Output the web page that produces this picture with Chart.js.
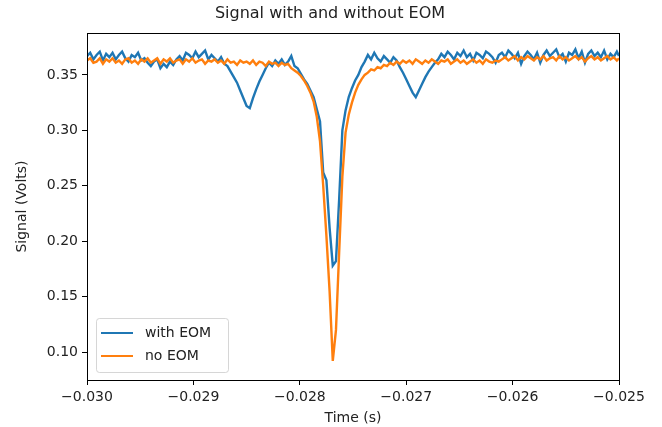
<!DOCTYPE html>
<html>
<head>
<meta charset="utf-8">
<script src="https://cdn.jsdelivr.net/npm/chart.js@4"></script>
<style>
  html, body { margin: 0; padding: 0; background: #fff; }
  #wrap { width: 662px; height: 427px; }
</style>
</head>
<body>
<div id="wrap"><canvas id="signal"></canvas></div>
<script>
// sample times (s)
const times = [
  -0.03000,-0.02997,-0.02994,-0.02991,-0.02988,-0.02985,-0.02982,-0.02979,-0.02976,-0.02973,
  -0.02970,-0.02967,-0.02964,-0.02961,-0.02958,-0.02955,-0.02952,-0.02949,-0.02946,-0.02943,
  -0.02940,-0.02937,-0.02934,-0.02931,-0.02928,-0.02925,-0.02922,-0.02919,-0.02916,-0.02913,
  -0.02910,-0.02907,-0.02904,-0.02901,-0.02898,-0.02895,-0.02892,-0.02889,-0.02886,-0.02883,
  -0.02880,-0.02877,-0.02874,-0.02871,-0.02868,-0.02865,-0.02862,-0.02859,-0.02856,-0.02853,
  -0.02850,-0.02847,-0.02844,-0.02841,-0.02838,-0.02835,-0.02832,-0.02829,-0.02826,-0.02823,
  -0.02820,-0.02817,-0.02814,-0.02811,-0.02808,-0.02805,-0.02802,-0.02799,-0.02796,-0.02793,
  -0.02790,-0.02787,-0.02784,-0.02781,-0.02778,-0.02775,-0.02772,-0.02769,-0.02766,-0.02763,
  -0.02760,-0.02757,-0.02754,-0.02751,-0.02748,-0.02745,-0.02742,-0.02739,-0.02736,-0.02733,
  -0.02730,-0.02727,-0.02724,-0.02721,-0.02718,-0.02715,-0.02712,-0.02709,-0.02706,-0.02703,
  -0.02700,-0.02697,-0.02694,-0.02691,-0.02688,-0.02685,-0.02682,-0.02679,-0.02676,-0.02673,
  -0.02670,-0.02667,-0.02664,-0.02661,-0.02658,-0.02655,-0.02652,-0.02649,-0.02646,-0.02643,
  -0.02640,-0.02637,-0.02634,-0.02631,-0.02628,-0.02625,-0.02622,-0.02619,-0.02616,-0.02613,
  -0.02610,-0.02607,-0.02604,-0.02601,-0.02598,-0.02595,-0.02592,-0.02589,-0.02586,-0.02583,
  -0.02580,-0.02577,-0.02574,-0.02571,-0.02568,-0.02565,-0.02562,-0.02559,-0.02556,-0.02553,
  -0.02550,-0.02547,-0.02544,-0.02541,-0.02538,-0.02535,-0.02532,-0.02529,-0.02526,-0.02523,
  -0.02520,-0.02517,-0.02514,-0.02511,-0.02508,-0.02505,-0.02502,-0.02500
];

// with EOM (V)
const withEOM = [
  0.367,0.370,0.364,0.368,0.371,0.363,0.369,0.366,0.370,0.364,
  0.368,0.371,0.365,0.362,0.368,0.366,0.370,0.363,0.365,0.361,
  0.358,0.362,0.364,0.356,0.360,0.357,0.362,0.359,0.364,0.367,
  0.363,0.370,0.368,0.365,0.371,0.366,0.369,0.372,0.364,0.368,
  0.365,0.362,0.366,0.360,0.358,0.353,0.348,0.343,0.336,0.329,
  0.322,0.320,0.329,0.337,0.344,0.350,0.356,0.361,0.358,0.363,
  0.360,0.364,0.359,0.362,0.367,0.358,0.356,0.351,0.346,0.342,
  0.336,0.330,0.319,0.308,0.262,0.255,0.212,0.178,0.182,0.238,
  0.300,0.318,0.330,0.338,0.345,0.350,0.357,0.362,0.368,0.364,
  0.370,0.365,0.362,0.367,0.364,0.361,0.366,0.363,0.357,0.352,
  0.346,0.340,0.334,0.330,0.336,0.342,0.348,0.353,0.357,0.361,
  0.364,0.369,0.366,0.371,0.368,0.364,0.370,0.367,0.372,0.366,
  0.369,0.363,0.370,0.368,0.365,0.371,0.369,0.366,0.361,0.368,
  0.370,0.366,0.372,0.369,0.365,0.370,0.360,0.367,0.371,0.368,
  0.364,0.370,0.361,0.368,0.372,0.367,0.370,0.373,0.366,0.369,
  0.362,0.370,0.368,0.373,0.365,0.371,0.361,0.369,0.372,0.367,
  0.370,0.366,0.372,0.364,0.369,0.366,0.371,0.367
];

// no EOM (V)
const noEOM = [
  0.363,0.365,0.361,0.362,0.365,0.360,0.364,0.362,0.365,0.361,
  0.363,0.360,0.364,0.365,0.361,0.363,0.360,0.364,0.362,0.365,
  0.361,0.363,0.365,0.360,0.364,0.362,0.365,0.361,0.363,0.364,
  0.360,0.364,0.362,0.365,0.361,0.363,0.364,0.360,0.363,0.362,
  0.364,0.361,0.363,0.360,0.364,0.361,0.362,0.359,0.363,0.361,
  0.362,0.360,0.363,0.359,0.362,0.361,0.358,0.362,0.360,0.361,
  0.358,0.361,0.359,0.360,0.356,0.354,0.352,0.349,0.345,0.340,
  0.334,0.326,0.312,0.290,0.250,0.205,0.155,0.092,0.120,0.190,
  0.258,0.298,0.314,0.325,0.334,0.341,0.346,0.350,0.352,0.355,
  0.354,0.357,0.356,0.359,0.358,0.361,0.359,0.362,0.360,0.363,
  0.361,0.363,0.360,0.364,0.362,0.360,0.363,0.361,0.364,0.362,
  0.360,0.363,0.362,0.364,0.360,0.362,0.364,0.361,0.363,0.360,
  0.362,0.364,0.361,0.363,0.360,0.364,0.362,0.361,0.363,0.362,
  0.364,0.366,0.363,0.365,0.367,0.363,0.366,0.364,0.367,0.365,
  0.363,0.366,0.364,0.367,0.363,0.365,0.366,0.363,0.367,0.364,
  0.366,0.363,0.365,0.367,0.364,0.366,0.362,0.365,0.367,0.364,
  0.366,0.363,0.365,0.367,0.364,0.366,0.363,0.365
];

const xTicks = [-0.030, -0.029, -0.028, -0.027, -0.026, -0.025];
const yTicks = [0.10, 0.15, 0.20, 0.25, 0.30, 0.35];
const title = 'Signal with and without EOM';

const FONT = 'DejaVu Sans';
const BLUE = '#1f77b4', ORANGE = '#ff7f0e';

function fmt(v, d) {
  return (v < 0 ? '\u2212' : '') + Math.abs(v).toFixed(d);
}

// matplotlib-ish frame, title and legend box in lower left
const frame = {
  id: 'frame',
  afterDraw(chart) {
    const {ctx, chartArea: a} = chart;
    ctx.save();
    ctx.strokeStyle = '#000';
    ctx.lineWidth = 1;
    ctx.strokeRect(a.left + 0.5, a.top + 0.5, a.right - a.left, a.bottom - a.top);

    ctx.fillStyle = '#222';
    ctx.font = '16px ' + FONT;
    ctx.textAlign = 'center';
    ctx.textBaseline = 'middle';
    ctx.fillText(title, 330, 14);
    ctx.textAlign = 'left';

    const bx = a.left + 9, by = a.bottom - 62, bw = 132, bh = 54;
    ctx.globalAlpha = 0.8;
    ctx.fillStyle = '#fff';
    ctx.strokeStyle = '#ccc';
    ctx.beginPath();
    ctx.roundRect(bx + 0.5, by + 0.5, bw, bh, 3);
    ctx.fill();
    ctx.stroke();
    ctx.globalAlpha = 1;
    ctx.font = '14px ' + FONT;
    ctx.fillStyle = '#222';
    const rows = [['with EOM', BLUE], ['no EOM', ORANGE]];
    rows.forEach(([label, col], i) => {
      const y = by + 15 + i * 23;
      ctx.strokeStyle = col;
      ctx.lineWidth = 2;
      ctx.beginPath();
      ctx.moveTo(bx + 5, y);
      ctx.lineTo(bx + 37, y);
      ctx.stroke();
      ctx.fillText(label, bx + 49, y);
    });
    ctx.restore();
  }
};

new Chart(document.getElementById('signal'), {
  type: 'line',
  data: {
    datasets: [
      { label: 'with EOM', data: times.map((t, i) => ({x: t, y: withEOM[i]})),
        borderColor: BLUE, borderWidth: 2.4, pointRadius: 0, order: 1 },
      { label: 'no EOM', data: times.map((t, i) => ({x: t, y: noEOM[i]})),
        borderColor: ORANGE, borderWidth: 2.4, pointRadius: 0, order: 0 }
    ]
  },
  options: {
    responsive: true,
    maintainAspectRatio: false,
    animation: false,
    layout: { padding: { left: 0, right: 43, top: 33, bottom: 0 } },
    plugins: {
      legend: { display: false },
      tooltip: { enabled: false },
      title: { display: false }
    },
    scales: {
      x: {
        type: 'linear', min: -0.030, max: -0.025,
        afterBuildTicks: s => { s.ticks = xTicks.map(v => ({value: v})); },
        afterFit: s => { s.height = 47; },
        grid: { drawOnChartArea: false, color: '#000', tickLength: 5 },
        border: { display: false },
        ticks: { color: '#222', font: { family: FONT, size: 14 }, padding: 4, maxRotation: 0,
                 callback: v => fmt(v, 3) },
        title: { display: true, text: 'Time (s)', color: '#222', padding: { top: 0, bottom: 0 },
                 font: { family: FONT, size: 14 } }
      },
      y: {
        type: 'linear', min: 0.0748, max: 0.3878,
        afterBuildTicks: s => { s.ticks = yTicks.map(v => ({value: v})); },
        afterFit: s => { s.width = 87; },
        grid: { drawOnChartArea: false, color: '#000', tickLength: 5 },
        border: { display: false },
        ticks: { color: '#222', font: { family: FONT, size: 14 }, padding: 4,
                 callback: v => fmt(v, 2) },
        title: { display: true, text: 'Signal (Volts)', color: '#222', padding: { top: 14, bottom: 0 },
                 font: { family: FONT, size: 14 } }
      }
    }
  },
  plugins: [frame]
});
</script>
</body>
</html>
